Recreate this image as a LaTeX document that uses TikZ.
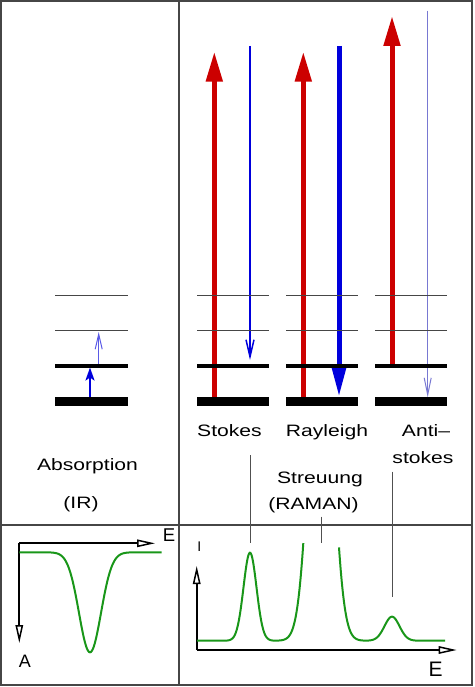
\documentclass[tikz,border=0pt]{standalone}
\usepackage{fontspec}
\setmainfont{Liberation Sans}
\newfontfamily\labfont[FakeStretch=1.28]{Liberation Sans}
\usetikzlibrary{arrows.meta}
\definecolor{framec}{RGB}{70,70,70}
\definecolor{levelc}{RGB}{70,70,70}
\definecolor{redc}{RGB}{204,0,0}
\definecolor{bluec}{RGB}{0,0,220}
\definecolor{lightbluec}{RGB}{120,120,210}
\definecolor{midbluec}{RGB}{90,90,230}
\definecolor{greenc}{RGB}{25,150,25}
\definecolor{leaderc}{RGB}{80,80,80}
\tikzset{
  frameline/.style={draw=framec, line width=2pt},
  thinlevel/.style={draw=levelc, line width=1pt},
  midlevel/.style={draw=black, line width=3.3pt},
  groundlevel/.style={draw=black, line width=8.7pt},
  redarrow/.style={draw=redc, line width=5pt, -{Triangle[length=30pt,width=16pt]}},
  bluethick/.style={draw=bluec, line width=5pt, -{Triangle[length=29pt,width=13pt]}},
  bluethin/.style={draw=bluec, line width=2pt, -{Straight Barb[length=17pt,width=8pt,line width=1.5pt]}},
  bluehair/.style={draw=lightbluec, line width=1pt, -{Straight Barb[length=17pt,width=7pt,line width=1pt]}},
  absarrow/.style={draw=bluec, line width=2.2pt, -{Stealth[length=13pt,width=9pt,inset=3pt]}},
  abshair/.style={draw=midbluec, line width=1pt, -{Straight Barb[length=15pt,width=7pt,line width=1pt]}},
  axis/.style={draw=black, line width=2pt, -{Triangle[open,length=18pt,width=7.5pt,line width=1.5pt,fill=white]}},
  spectrum/.style={draw=greenc, line width=2pt},
  leader/.style={draw=leaderc, line width=1pt},
  lab/.style={font=\labfont\fontsize{16.5}{20}\selectfont, inner sep=0pt, anchor=base},
  axlab/.style={inner sep=0pt},
  declare function={gs(\x,\m,\s)=exp(-min(0.5*((\x-\m)/\s)^2,30));}
}
\begin{document}
\begin{tikzpicture}[x=1pt,y=-1pt]
\useasboundingbox (0,0) rectangle (474,687);
% frame
\draw[frameline] (1,1.5) rectangle (471.5,685);
\draw[frameline] (179,1.5) -- (179,685);
\draw[frameline] (1,525) -- (471.5,525);

% ---------- left: absorption levels ----------
\draw[absarrow] (90,398) -- (90,367.5);
\draw[abshair] (98.7,366) -- (98.7,332);
\draw[thinlevel] (55,295) -- (128,295);
\draw[thinlevel] (55,330) -- (128,330);
\draw[midlevel] (55,366) -- (128,366);
\draw[groundlevel] (55,401.7) -- (128,401.7);

\node[lab] (abs) at (87.5,470) {Absorption};
\node[lab] (ir) at (81,508.3) {(IR)};

% ---------- right: scattering arrows ----------
\draw[redarrow] (214.3,401) -- (214.3,51.7);
\draw[bluethin] (250,46) -- (250,360);
\draw[redarrow] (303.3,401) -- (303.3,51.7);
\draw[bluethick] (339,46) -- (339,397);
\draw[redarrow] (392,366) -- (392,16);
\draw[bluehair] (427.7,10.7) -- (427.7,397.3);

\foreach \a/\b in {197.3/269.3, 286/358, 375/447.3}{
  \draw[thinlevel] (\a,295) -- (\b,295);
  \draw[thinlevel] (\a,330) -- (\b,330);
  \draw[midlevel] (\a,366) -- (\b,366);
  \draw[groundlevel] (\a,401.7) -- (\b,401.7);
}

\node[lab] (stokes) at (229.5,436.7) {Stokes};
\node[lab] (rayleigh) at (327,436.7) {Rayleigh};
\node[lab] (anti) at (426,436.7) {Anti–};
\node[lab] (anti2) at (423,463.3) {stokes};
\node[lab] (streu) at (320,483.3) {Streuung};
\node[lab] (raman) at (313.5,509) {(RAMAN)};

% ---------- bottom left: absorption spectrum ----------
\coordinate (oL) at (19.3,543.3);
\coordinate (xL) at (155,543.3);
\coordinate (yL) at (19.3,643);
\draw[axis] (oL) -- (xL);
\draw[axis] (oL) -- (yL);
\node[axlab, font=\fontsize{18.5}{20}\selectfont] (eL) at (169,535) {E};
\node[axlab, font=\fontsize{18}{20}\selectfont] (aL) at (25,661.7) {A};
\draw[spectrum] plot[domain=19.3:161.7, samples=160] (\x, {552.3 + 100*gs(\x,90,11)});

% ---------- bottom right: Raman spectrum ----------
\coordinate (oR) at (196.7,650);
\coordinate (xR) at (456.7,650);
\coordinate (yR) at (196.7,566);
\draw[axis] (oR) -- (xR);
\draw[axis] (oR) -- (yR);
\node[axlab, font=\fontsize{14}{16}\selectfont] (iR) at (199.3,546.7) {I};
\node[axlab, font=\fontsize{21}{23}\selectfont] (eR) at (435.5,669.2) {E};
\draw[spectrum] plot[domain=197:303.3, samples=200]
  (\x, {640.7 - 88*gs(\x,250,6.5) - 374*gs(\x,321,10.8)});
\draw[spectrum] plot[domain=339:445, samples=200]
  (\x, {640.7 - 374*gs(\x,321,10.8) - 24*gs(\x,392,7.5)});

% leader lines
\coordinate (sTop) at (250,455);
\coordinate (sBot) at (250,543.3);
\coordinate (rTop) at (321.7,516.7);
\coordinate (rBot) at (321.7,543.3);
\coordinate (aTop) at (392.3,471.7);
\coordinate (aBot) at (392.3,596.7);
\draw[leader] (sTop) -- (sBot);
\draw[leader] (rTop) -- (rBot);
\draw[leader] (aTop) -- (aBot);
\end{tikzpicture}
\end{document}
